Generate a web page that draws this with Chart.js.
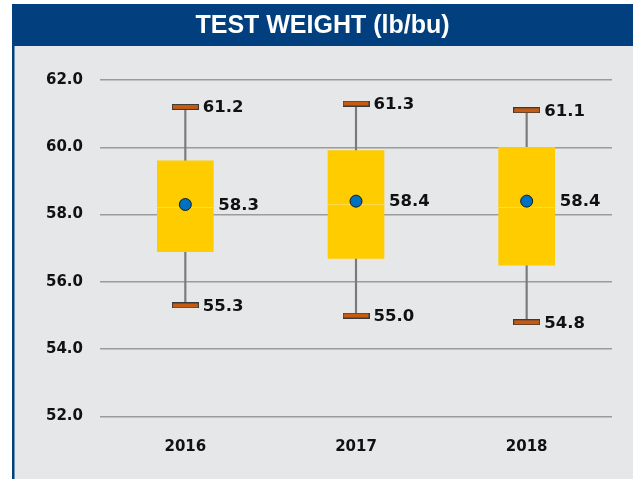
<!DOCTYPE html>
<html>
<head>
<meta charset="utf-8">
<script src="https://cdn.jsdelivr.net/npm/chart.js@4"></script>
<style>
  html, body { margin: 0; padding: 0; background: #ffffff; }
  #wrap { width: 633px; height: 479px; position: relative; }
</style>
</head>
<body>
<div id="wrap"><canvas id="c" width="633" height="479"></canvas></div>
<script>
// ---- data ----
const chartTitle = 'TEST WEIGHT (lb/bu)';
const categories = ['2016', '2017', '2018'];
const mins    = [55.3, 55.0, 54.8];
const q1s     = [56.9, 56.7, 56.5];
const medians = [58.2, 58.3, 58.2];
const q3s     = [59.6, 59.9, 60.0];
const maxs    = [61.2, 61.3, 61.1];
const means   = [58.3, 58.4, 58.4];
const yTicks  = [52, 54, 56, 58, 60, 62];

// ---- styles ----
const TITLE_BLUE = '#013F7E';
const PANEL_GRAY = '#E6E7E9';
const BOX_YELLOW = '#FFCC00';
const CAP_ORANGE = '#C55A11';
const MEAN_BLUE  = '#0070C0';
const LABEL_FONT = 'bold 16.5px "DejaVu Sans"';

function makeRectImage(w, h, fill, border) {
  const cv = document.createElement('canvas');
  cv.width = w; cv.height = h;
  const g = cv.getContext('2d');
  if (border) {
    g.fillStyle = border; g.fillRect(0, 0, w, h);
    g.fillStyle = fill; g.fillRect(1, 1, w - 2, h - 2);
  } else {
    g.fillStyle = fill; g.fillRect(0, 0, w, h);
  }
  return cv;
}
const capImg = makeRectImage(27, 6, CAP_ORANGE, '#3a3a3a');
const medImg = makeRectImage(56, 1, '#FFDA4A', null);

const backgroundPlugin = {
  id: 'bgPanel',
  beforeDraw(chart) {
    const ctx = chart.ctx;
    ctx.save();
    ctx.fillStyle = '#ffffff';
    ctx.fillRect(0, 0, chart.width, chart.height);
    ctx.fillStyle = PANEL_GRAY;
    ctx.fillRect(14, 46, chart.width - 14, chart.height - 46);
    ctx.fillStyle = TITLE_BLUE;
    ctx.fillRect(12, 4, chart.width - 12, 42);
    ctx.fillRect(12, 4, 2.5, chart.height - 4);
    ctx.fillStyle = '#ffffff';
    ctx.font = 'bold 25px "Liberation Sans", Arial, sans-serif';
    ctx.textAlign = 'center';
    ctx.textBaseline = 'middle';
    ctx.fillText(chartTitle, (12 + chart.width) / 2, 26);
    ctx.restore();
  }
};

const labelPlugin = {
  id: 'valueLabels',
  afterDatasetsDraw(chart) {
    const ctx = chart.ctx;
    const xs = chart.scales.x, ys = chart.scales.y;
    ctx.save();
    ctx.fillStyle = '#111111';
    ctx.font = LABEL_FONT;
    ctx.textAlign = 'left';
    ctx.textBaseline = 'middle';
    categories.forEach((c, i) => {
      const x = xs.getPixelForValue(i);
      ctx.fillText(maxs[i].toFixed(1), x + 13.5 + 4, ys.getPixelForValue(maxs[i]) + 1);
      ctx.fillText(mins[i].toFixed(1), x + 13.5 + 4, ys.getPixelForValue(mins[i]) + 1);
      ctx.fillText(means[i].toFixed(1), x + 28 + 5, ys.getPixelForValue(means[i]) + 1);
    });
    ctx.restore();
  }
};

new Chart(document.getElementById('c'), {
  type: 'bar',
  data: {
    labels: categories,
    datasets: [
      {
        label: 'whisker',
        data: mins.map((v, i) => [v, maxs[i]]),
        backgroundColor: '#7a7a7a',
        barThickness: 1.5,
        grouped: false,
        order: 10
      },
      {
        label: 'box',
        data: q1s.map((v, i) => [v, q3s[i]]),
        backgroundColor: BOX_YELLOW,
        barThickness: 56,
        grouped: false,
        order: 8
      },
      {
        type: 'line',
        label: 'median',
        data: medians,
        showLine: false,
        pointStyle: medImg,
        order: 6
      },
      {
        type: 'line',
        label: 'max',
        data: maxs,
        showLine: false,
        pointStyle: capImg,
        order: 4
      },
      {
        type: 'line',
        label: 'min',
        data: mins,
        showLine: false,
        pointStyle: capImg,
        order: 4
      },
      {
        type: 'line',
        label: 'mean',
        data: means,
        showLine: false,
        pointRadius: 6,
        pointBackgroundColor: MEAN_BLUE,
        pointBorderColor: '#1a1a1a',
        pointBorderWidth: 1,
        order: 1
      }
    ]
  },
  options: {
    responsive: false,
    animation: false,
    layout: { padding: { left: 14, right: 21, top: 80, bottom: 0 } },
    plugins: {
      legend: { display: false },
      tooltip: { enabled: false },
      title: { display: false }
    },
    scales: {
      x: {
        grid: { display: false },
        border: { display: false },
        ticks: {
          color: '#111111',
          font: { family: 'DejaVu Sans', size: 15, weight: 'bold' },
          padding: 14
        },
        afterFit(scale) { scale.height = 62.5; }
      },
      y: {
        min: 52,
        max: 62,
        afterBuildTicks(scale) { scale.ticks = yTicks.map(v => ({ value: v })); },
        grid: { color: '#9b9b9b', lineWidth: 1.5, drawTicks: false },
        border: { display: false },
        ticks: {
          color: '#111111',
          font: { family: 'DejaVu Sans', size: 15, weight: 'bold' },
          padding: 17,
          callback: v => Number(v).toFixed(1)
        },
        afterFit(scale) { scale.width = 86; }
      }
    }
  },
  plugins: [backgroundPlugin, labelPlugin]
});
</script>
</body>
</html>
